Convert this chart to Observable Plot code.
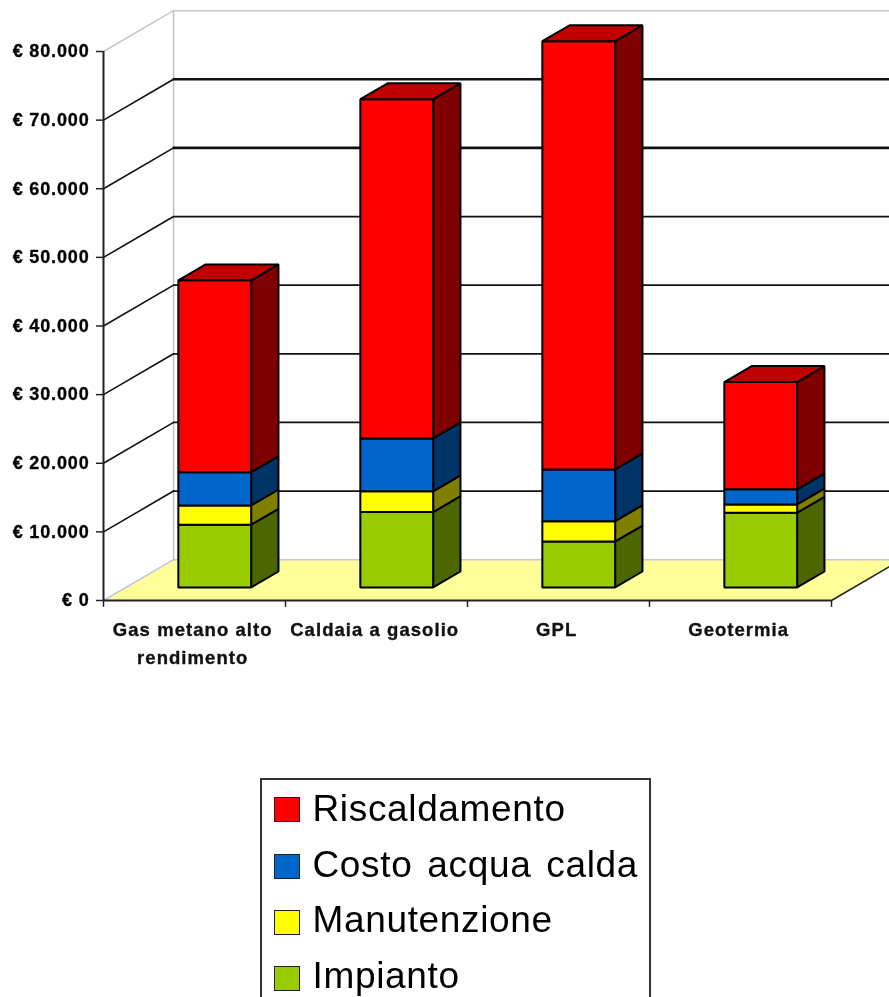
<!DOCTYPE html>
<html>
<head>
<meta charset="utf-8">
<script src="https://cdn.jsdelivr.net/npm/d3@7"></script>
<script src="https://cdn.jsdelivr.net/npm/@observablehq/plot@0.6"></script>
<style>
html,body{margin:0;padding:0;background:#fff;overflow:hidden;width:889px;height:997px}
svg{display:block;filter:blur(0.55px)}
svg text{letter-spacing:0.85px;stroke:#111;stroke-width:0.35px}
svg text.cat,svg .cat text{letter-spacing:1.05px}
#legend{position:absolute;left:260px;top:778px;width:391px;height:240px;border:2px solid #333;box-sizing:border-box;font-family:"Liberation Sans",Arial,sans-serif;font-size:37px;letter-spacing:0.65px;word-spacing:4px;color:#000;filter:blur(0.4px)}
.row{position:absolute;left:11.5px;height:30px;display:flex;align-items:center;white-space:nowrap}
.sw{position:relative;width:24px;height:23px;border:1.5px solid #222;margin-right:13px;flex:none}
</style>
</head>
<body>
<div id="chart"></div>
<div id="legend"></div>
<script>
const categories = ["Gas metano alto\nrendimento", "Caldaia a gasolio", "GPL", "Geotermia"];
const impianto = [9140, 10980, 6700, 10890];
const manutenzione = [2810, 3020, 2960, 1210];
const acquaCalda = [4850, 7720, 7540, 2190];
const riscaldamento = [27950, 49420, 62400, 15640];
const gridValues = [10000, 20000, 30000, 40000, 50000, 60000, 70000];
const seriesNames = ["Impianto", "Manutenzione", "Costo acqua calda", "Riscaldamento"];
const seriesValues = [impianto, manutenzione, acquaCalda, riscaldamento];
const frontColors = ["#99cc00", "#ffff00", "#0066cc", "#ff0000"];
const sideColors = ["#4d6600", "#808000", "#003366", "#800000"];
const topColor = "#c00000";

// oblique projection, in data units of the x and y scales
const depthX = 0.385, depthY = 5950;
const barOffset = 0.288, barWidth = 0.40, barFront = 0.32, barDepth = 0.39;
const project = (x, v, d) => ({x: x + d * depthX, y: v + d * depthY});
const poly = (pts, fill, stroke = "#000", strokeWidth = 2) =>
  Plot.line(pts, {x: "x", y: "y", curve: "linear-closed", fill, stroke, strokeWidth, strokeLinejoin: "miter"});
const path = (pts, stroke, strokeWidth) =>
  Plot.line(pts, {x: "x", y: "y", stroke, strokeWidth});

const marks = [];
// floor
marks.push(Plot.line([project(0,0,0), project(0,0,1), project(4,0,1), project(4,0,0)],
  {x:"x", y:"y", curve:"linear-closed", fill:"#ffff99", stroke:"none"}));
marks.push(path([project(0,0,0), project(0,0,1), project(4,0,1)], "#c4c4ea", 1.5));
// walls
marks.push(path([project(0,80000,0), project(0,80000,1), project(4,80000,1)], "#c8c8c8", 1.5));
marks.push(path([project(0,0,1), project(0,80000,1)], "#c0c0c0", 1.5));
// grid
for (const v of gridValues) {
  marks.push(path([project(0,v,0), project(0,v,1)], "#111", 1.6));
  marks.push(path([project(0,v,1), project(4,v,1)], "#111", v >= 60000 ? 2.6 : 1.8));
}
// floor right edge
marks.push(path([project(4,0,0), project(4,0,1)], "#222", 1.5));
// axes
marks.push(Plot.ruleX([0], {y1: 0, y2: 80000, stroke: "#222", strokeWidth: 2}));
marks.push(Plot.ruleY([0], {x1: 0, x2: 4, stroke: "#222", strokeWidth: 2}));
marks.push(Plot.ruleX([0, 1, 2, 3, 4], {y1: 0, y2: -1000, stroke: "#222", strokeWidth: 1.5}));
const fmt = d3.formatLocale({decimal: ",", thousands: ".", grouping: [3], currency: ["€ ", ""]}).format(",");
marks.push(Plot.axisY({
  ticks: [0,10000,20000,30000,40000,50000,60000,70000,80000],
  tickFormat: d => "€ " + fmt(d),
  tickSize: 7, tickPadding: 7, strokeWidth: 1.5, stroke: "#222", fontSize: 18, fontWeight: "bold",
  fontFamily: "Liberation Sans", label: null
}));
// bars
categories.forEach((c, i) => {
  const x0 = i + barOffset, x1 = x0 + barWidth;
  const d0 = barFront, d1 = barFront + barDepth;
  let base = 0;
  seriesValues.forEach((vals, s) => {
    const t = base + vals[i];
    marks.push(poly([project(x1,base,d0), project(x1,base,d1), project(x1,t,d1), project(x1,t,d0)], sideColors[s]));
    marks.push(poly([project(x0,base,d0), project(x1,base,d0), project(x1,t,d0), project(x0,t,d0)], frontColors[s]));
    base = t;
  });
  marks.push(poly([project(x0,base,d0), project(x1,base,d0), project(x1,base,d1), project(x0,base,d1)], topColor));
});
// category labels
marks.push(Plot.text(categories, {
  x: (d, i) => i + 0.49, y: () => 0, text: d => d, dy: 16, lineAnchor: "top",
  lineHeight: 1.5, fontSize: 18.5, fontWeight: "bold", fontFamily: "Liberation Sans", fill: "#111",
  className: "cat"
}));

const plot = Plot.plot({
  width: 889, height: 778,
  marginLeft: 103, marginRight: 58, marginTop: 51, marginBottom: 178,
  x: {type: "linear", domain: [0, 4], axis: null},
  y: {type: "linear", domain: [0, 80000]},
  style: {background: "transparent", overflow: "hidden"},
  marks
});
document.getElementById("chart").append(plot);

// legend (top to bottom: last series first)
const legend = document.getElementById("legend");
const rowTops = [14, 70, 125, 181];
const swatchNudge = [0, 1, 2.5, 2.5];
[3,2,1,0].forEach((s, k) => {
  const r = document.createElement("div");
  r.className = "row";
  r.style.top = rowTops[k] + "px";
  const sw = document.createElement("span");
  sw.className = "sw";
  sw.style.background = frontColors[s];
  sw.style.top = swatchNudge[k] + "px";
  r.append(sw, document.createTextNode(seriesNames[s]));
  legend.append(r);
});
</script>
</body>
</html>
